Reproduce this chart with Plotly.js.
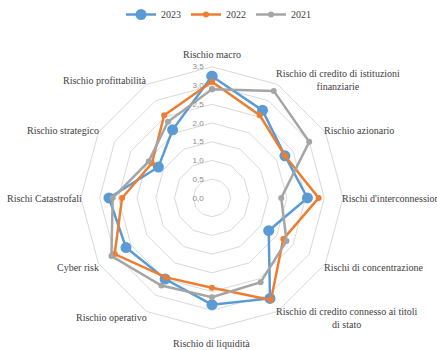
<!DOCTYPE html>
<html>
<head>
<meta charset="utf-8">
<script src="https://cdn.plot.ly/plotly-3.0.1.min.js"></script>
<style>html,body{margin:0;padding:0;background:#fff;}#chart{width:437px;height:350px;}</style>
</head>
<body>
<div id="chart"></div>
<script>
const categories = ["Rischio macro", "Rischio di credito di istituzioni<br>finanziarie", "Rischio azionario", "Rischi d'interconnessione", "Rischi di concentrazione", "Rischio di credito connesso ai titoli<br>di stato", "Rischio di liquidità", "Rischio operativo", "Cyber risk", "Rischi Catastrofali", "Rischio strategico", "Rischio profittabilità"];
const v2023 = [3.25, 2.7, 2.25, 2.55, 1.75, 3.1, 2.85, 2.5, 2.65, 2.75, 1.65, 2.1];
const v2022 = [3.1, 2.55, 2.25, 2.85, 2.2, 3.15, 2.4, 2.45, 3.0, 2.4, 1.85, 2.55];
const v2021 = [2.9, 3.3, 3.0, 1.85, 2.3, 2.6, 2.65, 2.7, 3.1, 2.65, 1.95, 2.35];
const seriesNames = ["2023", "2022", "2021"];
const colors = ["#5B9BD5", "#ED7D31", "#A5A5A5"];
const markerSizes = [11, 6, 6];

const W = 437, H = 350;
const SERIF = 'Times New Roman, DejaVu Serif Condensed, DejaVu Serif';
const dom = {x: [0.185, 0.785], y: [0.06, 0.809]};

function closed(a){ return a.concat([a[0]]); }
const theta = closed(categories);
const traces = [v2023, v2022, v2021].map((v, i) => ({
  type: 'scatterpolar',
  r: closed(v),
  theta: theta,
  mode: 'lines+markers',
  name: seriesNames[i],
  line: {color: colors[i], width: 2.5},
  marker: {color: colors[i], size: markerSizes[i]},
  cliponaxis: false
}));

// category labels placed just outside the outer ring (Excel style)
const cx = (dom.x[0] + dom.x[1]) / 2 * W;
const cy = H - (dom.y[0] + dom.y[1]) / 2 * H;
const R = (dom.x[1] - dom.x[0]) * W / 2;
const n = categories.length;
const annotations = categories.map((c, i) => {
  const phi = i * 2 * Math.PI / n;
  const vx = cx + R * Math.sin(phi);
  const vy = cy - R * Math.cos(phi);
  let px = vx, py = vy, xa = 'center', ya = 'middle';
  if (i === 0) { ya = 'bottom'; py = vy - 6; }
  else if (i === n / 2) { ya = 'top'; py = vy + 8; }
  else {
    py = vy - 6 * Math.cos(phi) + 1;
    if (i < n / 2) { xa = 'left'; px = vx - 2; }
    else { xa = 'right'; px = vx + 2; }
  }
  return {
    text: c, showarrow: false, xref: 'paper', yref: 'paper',
    x: px / W, y: 1 - py / H, xanchor: xa, yanchor: ya, align: 'center',
    borderpad: 0, font: {family: SERIF, size: 10, color: '#404040'}
  };
});

const layout = {
  width: W, height: H,
  margin: {l: 0, r: 0, t: 0, b: 0},
  paper_bgcolor: '#fff',
  separators: ',.',
  font: {family: SERIF, size: 10, color: '#404040'},
  showlegend: true,
  legend: {orientation: 'h', x: 0.5, xanchor: 'center', y: 1.0, yanchor: 'top', font: {family: SERIF, size: 10, color: '#404040'}, itemwidth: 30},
  annotations: annotations,
  polar: {
    domain: dom,
    bgcolor: 'rgba(0,0,0,0)',
    gridshape: 'linear',
    radialaxis: {
      range: [0, 3.5], dtick: 0.5, tick0: 0, tickformat: '.1f',
      angle: 90, tickangle: 90, side: 'counterclockwise',
      showline: false, gridcolor: '#D9D9D9', gridwidth: 1,
      ticks: 'outside', ticklen: 5, tickcolor: 'rgba(0,0,0,0)',
      tickfont: {family: 'Liberation Sans', size: 8, color: '#8C8C8C'}
    },
    angularaxis: {
      direction: 'clockwise', rotation: 90, type: 'category',
      categoryarray: categories,
      showgrid: false, showticklabels: false,
      linecolor: '#D9D9D9', ticks: ''
    }
  }
};
Plotly.newPlot('chart', traces, layout, {displayModeBar: false, staticPlot: true});
</script>
</body>
</html>
